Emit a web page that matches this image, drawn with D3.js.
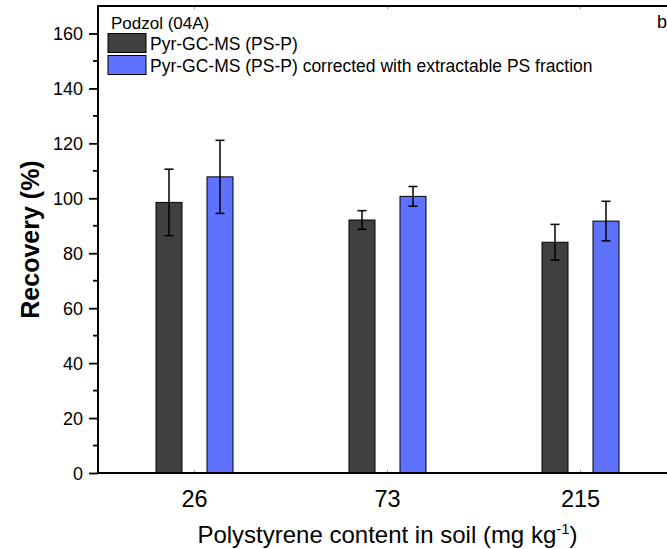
<!DOCTYPE html>
<html>
<head>
<meta charset="utf-8">
<script src="https://cdn.jsdelivr.net/npm/d3@7"></script>
<style>
  body { margin: 0; background: #fff; }
  svg { font-family: "Liberation Sans", Arial, sans-serif; }
</style>
</head>
<body>
<svg id="chart" width="667" height="549"></svg>
<script>
// data
let contents = ["26", "73", "215"];
let series = ["Pyr-GC-MS (PS-P)", "Pyr-GC-MS (PS-P) corrected with extractable PS fraction"];
let pyrMean = [98.5, 92.1, 84.0];
let pyrErr = [12.1, 3.4, 6.5];
let corrMean = [107.8, 100.7, 91.7];
let corrErr = [13.3, 3.6, 7.2];
let colors = ["#404040", "#5e72ff"];
let yTicks = [0, 20, 40, 60, 80, 100, 120, 140, 160];

let svg = d3.select("#chart");
let pLeft = 98, pRight = 677, pTop = 6, pBottom = 473;

let x = d3.scaleBand().domain(contents).range([pLeft, pRight]);
let xs = d3.scalePoint().domain(series).range([-25.5, 25.5]);
let y = d3.scaleLinear().domain([0, 170]).range([pBottom, pTop]);
let barW = 26;

// flatten into rows for drawing
let rows = [];
contents.forEach(function (c, i) {
  rows.push({ c: c, s: series[0], v: pyrMean[i], e: pyrErr[i], col: colors[0] });
  rows.push({ c: c, s: series[1], v: corrMean[i], e: corrErr[i], col: colors[1] });
});
function cx(d) {
  return x(d.c) + x.bandwidth() / 2 + xs(d.s);
}

// bars
svg.append("g")
  .selectAll("rect")
  .data(rows)
  .join("rect")
  .attr("x", d => cx(d) - barW / 2)
  .attr("y", d => y(d.v))
  .attr("width", barW)
  .attr("height", d => y(0) - y(d.v))
  .attr("fill", d => d.col)
  .attr("stroke", "#000")
  .attr("stroke-width", 1);

// error bars
let eb = svg.append("g").attr("stroke", "#000").attr("stroke-width", 1.5);
eb.selectAll("line.v")
  .data(rows)
  .join("line")
  .attr("class", "v")
  .attr("x1", cx).attr("x2", cx)
  .attr("y1", d => y(d.v + d.e)).attr("y2", d => y(d.v - d.e));
eb.selectAll("line.t")
  .data(rows)
  .join("line")
  .attr("class", "t")
  .attr("x1", d => cx(d) - 4.5).attr("x2", d => cx(d) + 4.5)
  .attr("y1", d => y(d.v + d.e)).attr("y2", d => y(d.v + d.e));
eb.selectAll("line.b")
  .data(rows)
  .join("line")
  .attr("class", "b")
  .attr("x1", d => cx(d) - 4.5).attr("x2", d => cx(d) + 4.5)
  .attr("y1", d => y(d.v - d.e)).attr("y2", d => y(d.v - d.e));

// left axis with minor ticks
let yAxis = d3.axisLeft(y).tickValues(yTicks).tickSize(9).tickPadding(6);
let gy = svg.append("g").attr("transform", "translate(" + pLeft + ",0)").call(yAxis);
gy.select(".domain").remove();
gy.selectAll(".tick line").attr("stroke-width", 1.8);
gy.selectAll(".tick text").style("font-size", "18px").attr("dy", "0.36em");
let minor = d3.range(10, 170, 20);
gy.selectAll("line.minor")
  .data(minor)
  .join("line")
  .attr("class", "minor")
  .attr("x1", -5).attr("x2", 0)
  .attr("y1", d => y(d)).attr("y2", d => y(d))
  .attr("stroke", "#000").attr("stroke-width", 1.8);

// bottom axis: labels only, tiny inner ticks
let xAxis = d3.axisBottom(x).tickSize(-3).tickPadding(17);
let gx = svg.append("g").attr("transform", "translate(0," + pBottom + ")").call(xAxis);
gx.select(".domain").remove();
gx.selectAll(".tick line").attr("stroke", "#999");
gx.selectAll(".tick text").style("font-size", "23.5px").attr("dy", "0.71em");

// top tiny ticks
svg.append("g")
  .selectAll("line")
  .data(contents)
  .join("line")
  .attr("x1", d => x(d) + x.bandwidth() / 2).attr("x2", d => x(d) + x.bandwidth() / 2)
  .attr("y1", pTop).attr("y2", pTop + 3)
  .attr("stroke", "#999");

// frame
svg.append("rect")
  .attr("x", pLeft).attr("y", pTop)
  .attr("width", pRight - pLeft).attr("height", pBottom - pTop)
  .attr("fill", "none").attr("stroke", "#000").attr("stroke-width", 2);

// axis titles
let xt = svg.append("text")
  .attr("x", (pLeft + pRight) / 2)
  .attr("y", 543)
  .attr("text-anchor", "middle")
  .style("font-size", "24px");
xt.append("tspan").text("Polystyrene content in soil (mg kg");
xt.append("tspan").attr("dy", -9).style("font-size", "15px").text("-1");
xt.append("tspan").attr("dy", 9).text(")");

svg.append("text")
  .attr("transform", "translate(39," + (pTop + pBottom) / 2 + ") rotate(-90)")
  .attr("text-anchor", "middle")
  .style("font-size", "25px")
  .style("font-weight", "bold")
  .text("Recovery (%)");

// legend
let lg = svg.append("g");
lg.append("text").attr("x", 111).attr("y", 29).style("font-size", "17px").text("Podzol (04A)");
let items = lg.selectAll("g.item")
  .data(series)
  .join("g")
  .attr("class", "item")
  .attr("transform", (d, i) => "translate(108," + (33.5 + i * 22) + ")");
items.append("rect")
  .attr("width", 38).attr("height", 19)
  .attr("fill", (d, i) => colors[i])
  .attr("stroke", "#000").attr("stroke-width", 1);
items.append("text")
  .attr("x", 42).attr("y", 16)
  .style("font-size", "17.5px")
  .text(d => d);

svg.append("text").attr("x", 657).attr("y", 28).style("font-size", "18px").text("b");
</script>
</body>
</html>
